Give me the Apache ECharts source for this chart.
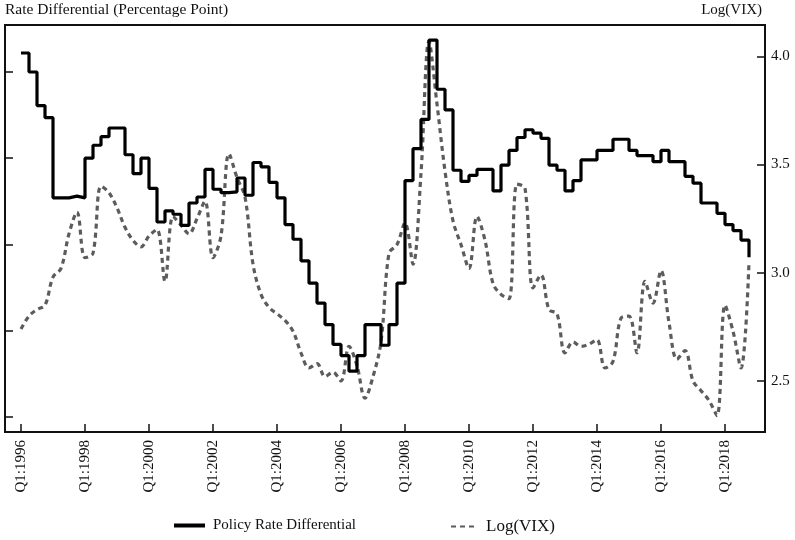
<!DOCTYPE html>
<html lang="en">
<head>
<meta charset="UTF-8" />
<title>Policy Rate Differential and Log(VIX)</title>
<script src="https://cdn.jsdelivr.net/npm/echarts@6/dist/echarts.min.js"></script>
<style>
  html, body { margin: 0; padding: 0; background: #fff; }
</style>
</head>
<body>
<div id="main" style="width: 795px; height: 540px"></div>
<script type="text/javascript">
  // quarters on the axis: two empty quarters before Q1:1996 and two after Q4:2018
  const firstYear = 1995, firstQuarter = 3, quarterCount = 96;
  const quarters = [];
  for (let k = 0; k < quarterCount; k++) {
    const q = firstQuarter - 1 + k;
    quarters.push('Q' + (q % 4 + 1) + ':' + (firstYear + Math.floor(q / 4)));
  }
  const dataStart = 2; // index of Q1:1996

  const tickLabels = ['Q1:1996', 'Q1:1998', 'Q1:2000', 'Q1:2002', 'Q1:2004', 'Q1:2006',
    'Q1:2008', 'Q1:2010', 'Q1:2012', 'Q1:2014', 'Q1:2016', 'Q1:2018'];
  const vixTicks = [2.5, 3.0, 3.5, 4.0];

  // Q1:1996 .. Q4:2018, quarterly
  const rateDiff = [
    4.22, 4.00, 3.61, 3.47, 2.54, 2.54, 2.56, 2.54,
    3.00, 3.15, 3.25, 3.35, 3.35, 3.04, 2.82, 3.00,
    2.65, 2.26, 2.39, 2.35, 2.22, 2.48, 2.55, 2.87,
    2.64, 2.60, 2.61, 2.77, 2.57, 2.95, 2.90, 2.72,
    2.54, 2.23, 2.06, 1.81, 1.55, 1.32, 1.07, 0.84,
    0.71, 0.53, 0.71, 1.07, 1.07, 0.83, 1.07, 1.55,
    2.74, 3.11, 3.45, 4.37, 3.80, 3.56, 2.86, 2.73,
    2.80, 2.87, 2.87, 2.62, 2.92, 3.09, 3.24, 3.33,
    3.29, 3.23, 2.92, 2.86, 2.62, 2.74, 2.98, 2.98,
    3.09, 3.09, 3.22, 3.22, 3.09, 3.03, 3.03, 2.96,
    3.09, 2.96, 2.96, 2.79, 2.71, 2.48, 2.48, 2.36,
    2.23, 2.16, 2.05, 1.85
  ];

  const logVix = [
    2.74, 2.80, 2.83, 2.85, 2.98, 3.02, 3.18, 3.28,
    3.07, 3.09, 3.40, 3.37, 3.30, 3.21, 3.15, 3.12,
    3.17, 3.20, 2.96, 3.26, 3.22, 3.18, 3.25, 3.33,
    3.07, 3.17, 3.55, 3.44, 3.35, 3.04, 2.90, 2.84,
    2.81, 2.78, 2.73, 2.63, 2.56, 2.58, 2.52, 2.54,
    2.50, 2.66, 2.57, 2.42, 2.52, 2.68, 3.09, 3.13,
    3.23, 3.04, 3.46, 4.07, 3.78, 3.47, 3.24, 3.13,
    3.02, 3.26, 3.15, 2.95, 2.90, 2.88, 3.41, 3.39,
    2.93, 2.99, 2.83, 2.81, 2.63, 2.68, 2.66, 2.67,
    2.69, 2.56, 2.59, 2.79, 2.80, 2.63, 2.96, 2.86,
    3.01, 2.77, 2.60, 2.64, 2.50, 2.455, 2.41, 2.34,
    2.85, 2.73, 2.56, 3.05
  ];

  const font = 'Liberation Serif';
  const ink = '#111';

  var chartDom = document.getElementById('main');
  var myChart = echarts.init(chartDom);

  const showTick = (idx, val) => tickLabels.indexOf(val) >= 0;
  // hide the circle ECharts puts on line legend icons
  const noSymbol = { color: 'transparent', borderColor: 'transparent', borderWidth: 0 };

  var option = {
    animation: false,
    textStyle: { fontFamily: font },
    grid: {
      left: 5, right: 30, top: 25, bottom: 108,
      show: true, borderColor: ink, borderWidth: 2
    },
    legend: [
      {
        data: ['Policy Rate Differential'],
        left: 172, top: 518, padding: 0,
        itemWidth: 31, itemHeight: 14,
        itemStyle: noSymbol,
        lineStyle: { width: 4 },
        textStyle: { fontFamily: font, fontSize: 15, color: ink, padding: [0, 0, 0, 3] }
      },
      {
        data: ['Log(VIX)'],
        left: 450, top: 518, padding: 0,
        itemWidth: 26, itemHeight: 14,
        itemStyle: noSymbol,
        textStyle: { fontFamily: font, fontSize: 17, color: ink, padding: [0, 0, 0, 4] }
      }
    ],
    xAxis: {
      type: 'category',
      data: quarters,
      boundaryGap: false,
      axisLine: { onZero: false, lineStyle: { color: ink, width: 2 } },
      axisTick: { inside: true, length: 8, interval: showTick, lineStyle: { color: ink, width: 1.5 } },
      axisLabel: {
        interval: showTick, rotate: 90, margin: 8,
        fontFamily: font, fontSize: 15, color: ink
      },
      splitLine: { show: false }
    },
    yAxis: [
      {
        type: 'value',
        min: -0.176, max: 4.545,
        minInterval: 1, maxInterval: 1,
        name: 'Rate Differential (Percentage Point)',
        nameLocation: 'end', nameGap: 7,
        nameTextStyle: { align: 'left', padding: [0, 0, 0, 0], fontFamily: font, fontSize: 15.5, color: ink },
        axisLine: { show: true, lineStyle: { color: ink, width: 2 } },
        axisTick: { show: true, inside: true, length: 8, lineStyle: { color: ink, width: 1.5 } },
        axisLabel: { show: false },
        splitLine: { show: false }
      },
      {
        type: 'value',
        position: 'right',
        min: 2.264, max: 4.145,
        minInterval: 0.5, maxInterval: 0.5,
        name: 'Log(VIX)',
        nameLocation: 'end', nameGap: 7,
        nameTextStyle: { align: 'right', padding: [0, 3, 0, 0], fontFamily: font, fontSize: 15, color: ink },
        axisLine: { show: true, lineStyle: { color: ink, width: 2 } },
        axisTick: { show: true, inside: true, length: 8, lineStyle: { color: ink, width: 1.5 } },
        axisLabel: {
          showMinLabel: false, showMaxLabel: false, margin: 6,
          fontFamily: font, fontSize: 15, color: ink,
          formatter: v => (vixTicks.indexOf(Math.round(v * 10) / 10) >= 0 ? v.toFixed(1) : '')
        },
        splitLine: { show: false }
      }
    ],
    series: [
      {
        name: 'Policy Rate Differential',
        type: 'line',
        yAxisIndex: 0,
        step: 'end',
        symbol: 'none',
        lineStyle: { color: '#000', width: 3.2 },
        itemStyle: { color: '#000' },
        data: rateDiff.map((v, i) => [quarters[dataStart + i], v]),
        z: 3
      },
      {
        name: 'Log(VIX)',
        type: 'line',
        yAxisIndex: 1,
        smooth: 0.35,
        symbol: 'none',
        lineStyle: { color: '#5c5c5c', width: 3.2, type: [5, 4] },
        itemStyle: { color: '#5c5c5c' },
        data: logVix.map((v, i) => [quarters[dataStart + i], v]),
        z: 2
      }
    ]
  };

  option && myChart.setOption(option);
</script>
</body>
</html>
